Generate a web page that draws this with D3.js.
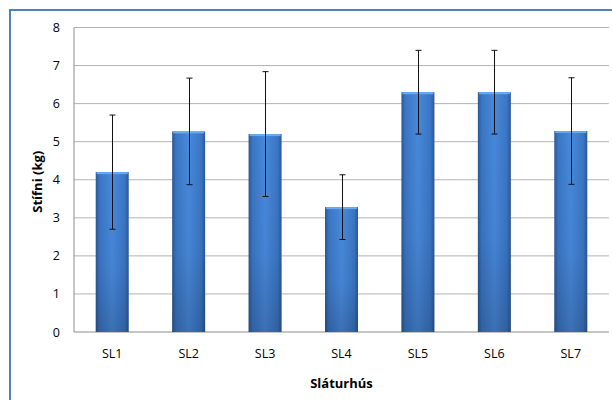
<!DOCTYPE html>
<html><head><meta charset="utf-8">
<script src="https://cdn.jsdelivr.net/npm/d3@7"></script>
<style>html,body{margin:0;padding:0;background:#fff;}svg{display:block;}</style>
</head><body>
<svg id="c" width="612" height="400"></svg>
<script>
const categories = ["SL1","SL2","SL3","SL4","SL5","SL6","SL7"];
const values = [4.2, 5.27, 5.2, 3.28, 6.3, 6.3, 5.28];
const errors = [1.5, 1.4, 1.64, 0.85, 1.1, 1.1, 1.4];
const yTicks = [0,1,2,3,4,5,6,7,8];
const yTitle = "Stífni (kg)";
const xTitle = "Sláturhús";

const svg = d3.select("#c");
const font = "'Open Sans', 'Liberation Sans', sans-serif";
const L = 74, R = 609, T = 27.5, B = 332;

const defs = svg.append("defs");
const gh = defs.append("linearGradient").attr("id","gh").attr("x1","0").attr("x2","1").attr("y1","0").attr("y2","0");
[[0,"#2b5894"],[0.12,"#3a76c4"],[0.5,"#4889dc"],[0.88,"#3a76c4"],[1,"#2b5894"]].forEach(s=>gh.append("stop").attr("offset",s[0]).attr("stop-color",s[1]));
const gv = defs.append("linearGradient").attr("id","gv").attr("x1","0").attr("x2","0").attr("y1","0").attr("y2","1");
[[0,"#000",0],[0.6,"#000",0.04],[1,"#000",0.18]].forEach(s=>gv.append("stop").attr("offset",s[0]).attr("stop-color",s[1]).attr("stop-opacity",s[2]));

// outer border (cropped)
svg.append("rect").attr("x",10).attr("y",10).attr("width",700).attr("height",500)
  .attr("fill","none").attr("stroke","#4f81bd").attr("stroke-width",2);

const x = d3.scaleBand().domain(categories).range([L,R]).padding(0);
const y = d3.scaleLinear().domain([0,8]).range([B,T]);

// gridlines
svg.append("g").selectAll("line").data(yTicks.filter(d=>d>0)).join("line")
  .attr("x1",L).attr("x2",R).attr("y1",d=>y(d)).attr("y2",d=>y(d))
  .attr("stroke","#b3b3b3").attr("stroke-width",1);

// axes lines
svg.append("line").attr("x1",L).attr("x2",L).attr("y1",T).attr("y2",B).attr("stroke","#8c8c8c");
svg.append("line").attr("x1",L).attr("x2",R).attr("y1",B).attr("y2",B).attr("stroke","#8c8c8c");

// y axis labels
const yAxis = d3.axisLeft(y).tickValues(yTicks).tickSize(0).tickPadding(0).tickFormat(d3.format("d"));
const ya = svg.append("g").attr("transform",`translate(${L-14},0)`).call(yAxis);
ya.select(".domain").remove();
ya.attr("font-size",null).attr("font-family",null);
ya.selectAll("text").style("font-family",font).style("font-size","12.5px").attr("fill","#000");

// x axis labels
const xAxis = d3.axisBottom(x).tickSize(0).tickPadding(0);
const xa = svg.append("g").attr("transform",`translate(0,${B+17})`).call(xAxis);
xa.select(".domain").remove();
xa.attr("font-size",null).attr("font-family",null);
xa.selectAll("text").style("font-family",font).style("font-size","12.5px").attr("fill","#000");

const bw = 33;
const bars = svg.append("g").selectAll("g").data(categories).join("g");
bars.append("rect")
  .attr("x",(d)=>x(d)+x.bandwidth()/2-bw/2).attr("width",bw)
  .attr("y",(d,i)=>y(values[i])).attr("height",(d,i)=>B-y(values[i]))
  .attr("fill","url(#gh)");
bars.append("rect")
  .attr("x",(d)=>x(d)+x.bandwidth()/2-bw/2).attr("width",bw)
  .attr("y",(d,i)=>y(values[i])).attr("height",(d,i)=>B-y(values[i]))
  .attr("fill","url(#gv)");
// top highlight
bars.append("rect")
  .attr("x",(d)=>x(d)+x.bandwidth()/2-bw/2+1).attr("width",bw-2)
  .attr("y",(d,i)=>y(values[i])).attr("height",2)
  .attr("fill","#6aaaf0");

// error bars
const eb = svg.append("g").attr("stroke","#111").attr("stroke-width",1);
categories.forEach((c,i)=>{
  const cx = Math.round(x(c)+x.bandwidth()/2)+0.5;
  const y1 = y(values[i]+errors[i]), y2 = y(values[i]-errors[i]);
  eb.append("line").attr("x1",cx).attr("x2",cx).attr("y1",y1).attr("y2",y2);
  eb.append("line").attr("x1",cx-3).attr("x2",cx+3).attr("y1",y1).attr("y2",y1);
  eb.append("line").attr("x1",cx-3).attr("x2",cx+3).attr("y1",y2).attr("y2",y2);
});

// titles
svg.append("text").attr("x",(L+R)/2).attr("y",388).attr("text-anchor","middle")
  .style("font-family",font).style("font-weight","bold").style("font-size","13px").text(xTitle);
svg.append("text").attr("transform",`translate(42,${(T+B)/2 + 2}) rotate(-90)`).attr("text-anchor","middle")
  .style("font-family",font).style("font-weight","bold").style("font-size","13px").text(yTitle);
</script>
</body></html>
